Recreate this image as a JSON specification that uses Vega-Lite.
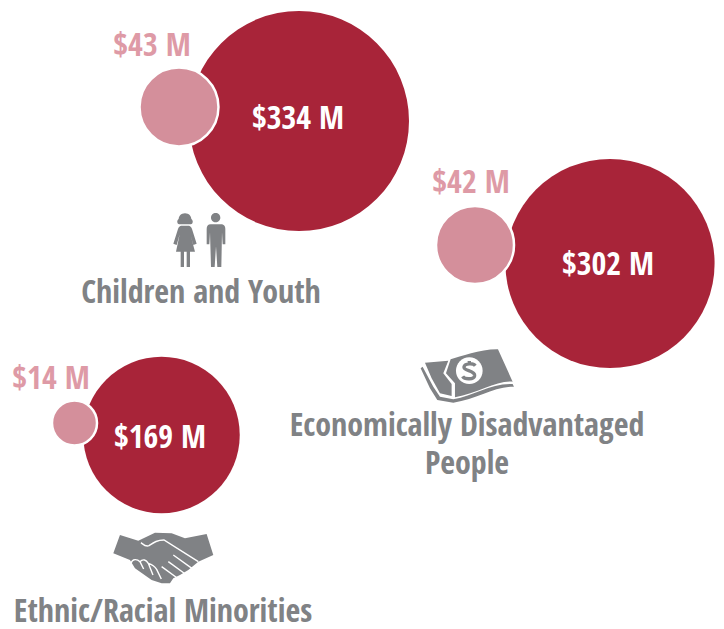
{
  "$schema": "https://vega.github.io/schema/vega-lite/v6.json",
  "width": 724,
  "height": 629,
  "padding": 0,
  "autosize": {"type": "fit", "contains": "padding"},
  "background": "white",
  "view": {"stroke": null},
  "datasets": {
    "bubbles": [
      {"category": "Children and Youth", "group": "all", "amount": 334, "cx": 299, "cy": 121},
      {"category": "Economically Disadvantaged People", "group": "all", "amount": 302, "cx": 610, "cy": 263.5},
      {"category": "Ethnic/Racial Minorities", "group": "all", "amount": 169, "cx": 161.5, "cy": 435},
      {"category": "Children and Youth", "group": "part", "amount": 43, "cx": 179, "cy": 107},
      {"category": "Economically Disadvantaged People", "group": "part", "amount": 42, "cx": 475, "cy": 245},
      {"category": "Ethnic/Racial Minorities", "group": "part", "amount": 14, "cx": 74.5, "cy": 423}
    ],
    "labels": [
      {"text": "$334 M", "kind": "all", "lx": 298, "ly": 119},
      {"text": "$302 M", "kind": "all", "lx": 608, "ly": 265},
      {"text": "$169 M", "kind": "all", "lx": 160, "ly": 438},
      {"text": "$43 M", "kind": "part", "lx": 152, "ly": 46},
      {"text": "$42 M", "kind": "part", "lx": 471, "ly": 183},
      {"text": "$14 M", "kind": "part", "lx": 51, "ly": 379},
      {"text": "Children and Youth", "kind": "name", "lx": 201, "ly": 293},
      {"text": "Economically Disadvantaged", "kind": "name", "lx": 467, "ly": 426},
      {"text": "People", "kind": "name", "lx": 467, "ly": 464},
      {"text": "Ethnic/Racial Minorities", "kind": "name", "lx": 163, "ly": 612}
    ],
    "icons": [
      {"icon": "people", "ix": 200, "iy": 241},
      {"icon": "money", "ix": 467.3, "iy": 375},
      {"icon": "hands", "ix": 162.3, "iy": 555}
    ]
  },
  "layer": [
    {
      "data": {"name": "bubbles"},
      "transform": [{"filter": "datum.group === 'all'"}],
      "mark": {"type": "point", "shape": "circle", "filled": true, "opacity": 1, "fill": "#A82439", "strokeWidth": 0},
      "encoding": {
        "x": {"field": "cx", "type": "quantitative", "scale": {"domain": [0, 724]}, "axis": null},
        "y": {"field": "cy", "type": "quantitative", "scale": {"domain": [629, 0]}, "axis": null},
        "size": {"field": "amount", "type": "quantitative", "scale": {"domain": [0, 334], "range": [0, 48400]}, "legend": null}
      }
    },
    {
      "data": {"name": "bubbles"},
      "transform": [{"filter": "datum.group === 'part'"}],
      "mark": {"type": "point", "shape": "circle", "filled": true, "opacity": 1, "fill": "#D48F9B", "stroke": "white", "strokeWidth": 2.5},
      "encoding": {
        "x": {"field": "cx", "type": "quantitative", "scale": {"domain": [0, 724]}, "axis": null},
        "y": {"field": "cy", "type": "quantitative", "scale": {"domain": [629, 0]}, "axis": null},
        "size": {"field": "amount", "type": "quantitative", "scale": {"domain": [0, 334], "range": [0, 48400]}, "legend": null}
      }
    },
    {
      "data": {"name": "icons"},
      "mark": {"type": "point", "filled": true, "opacity": 1, "size": 0.4444, "fill": "#808285", "strokeWidth": 0},
      "encoding": {
        "x": {"field": "ix", "type": "quantitative", "scale": {"domain": [0, 724]}, "axis": null},
        "y": {"field": "iy", "type": "quantitative", "scale": {"domain": [629, 0]}, "axis": null},
        "shape": {
          "field": "icon",
          "type": "nominal",
          "legend": null,
          "scale": {
            "domain": ["people", "money", "hands"],
            "range": [
              "M-45,-83 C-33,-83 -26,-74 -26,-66 C-20,-62 -20,-52 -28,-50 L-62,-50 C-70,-52 -70,-62 -64,-66 C-64,-74 -57,-83 -45,-83 Z M-57,-46 L-33,-46 C-28,-44 -26,-42 -24,-36 L-10,8 L-20,12 L-29,-20 L-15,32 L-30,32 L-30,78 L-40,78 L-40,32 L-48,32 L-48,78 L-58,78 L-58,32 L-72,32 L-61,-20 L-70,12 L-80,8 L-66,-36 C-64,-42 -62,-44 -57,-46 Z M33,-70 A14,14 0 1,0 61,-70 A14,14 0 1,0 33,-70 Z M32,-50 L62,-50 C72,-50 76,-44 76,-36 L76,10 L68,10 L66,-26 L64,78 L52,78 L48,16 L44,78 L33,78 L30,-26 L28,10 L20,10 L20,-36 C20,-44 24,-50 32,-50 Z",
              "M-50,-47 C-20,-55 40,-78 92,-77 L136,20 C90,15 30,55 -37,67 L-37,25 L-64,-5 Z M-127,-37 L-57,-43 L-72,-5 L-47,27 L-47,63 L-82,55 L-107,10 Z M-140,-20 L-134,-25 L-102,35 L-82,65 L-42,73 C20,62 70,25 136,27 L140,35 C80,35 30,72 -42,83 L-90,75 L-112,40 Z",
              "M-127,-60 L-72,-43 L-22,-67 L28,-65 L68,-50 L133,-63 L153,0 L108,20 L78,45 L53,60 L33,70 L23,85 L-2,85 L-32,75 L-82,40 L-97,15 L-147,-5 Z"
            ]
          }
        }
      }
    },
    {
      "data": {"name": "icons"},
      "transform": [{"filter": "datum.icon === 'money'"}],
      "mark": {"type": "point", "filled": true, "opacity": 1, "size": 0.4444, "fill": "white", "strokeWidth": 0, "shape": "M-34,-13 A40,40 0 1,0 46,-13 A40,40 0 1,0 -34,-13 Z"},
      "encoding": {
        "x": {"field": "ix", "type": "quantitative", "scale": {"domain": [0, 724]}, "axis": null},
        "y": {"field": "iy", "type": "quantitative", "scale": {"domain": [629, 0]}, "axis": null}
      }
    },
    {
      "data": {"name": "icons"},
      "transform": [{"filter": "datum.icon === 'money'"}],
      "mark": {"type": "point", "filled": false, "opacity": 1, "size": 0.4444, "stroke": "#808285", "strokeWidth": 3.4, "shape": "M24,-28 C18,-36 -8,-36 -10,-24 C-12,-12 24,-14 22,2 C20,14 -8,14 -14,4 M6,-42 L6,-34 M6,8 L6,16"},
      "encoding": {
        "x": {"field": "ix", "type": "quantitative", "scale": {"domain": [0, 724]}, "axis": null},
        "y": {"field": "iy", "type": "quantitative", "scale": {"domain": [629, 0]}, "axis": null}
      }
    },
    {
      "data": {"name": "icons"},
      "transform": [{"filter": "datum.icon === 'hands'"}],
      "mark": {"type": "point", "filled": false, "opacity": 1, "size": 0.4444, "stroke": "white", "strokeWidth": 1.4, "shape": "M-64,-37 C-55,-30 -50,-24 -40,-28 C-25,-38 -15,-45 5,-45 L108,20 M33,0 L93,43 M18,20 L73,60 M-2,35 L53,75 M-94,25 C-90,10 -75,12 -67,20 C-58,10 -48,15 -42,25 C-32,28 -22,35 -17,43 M-67,20 L-56,42 M-42,25 L-28,60 M-17,43 L-3,72"},
      "encoding": {
        "x": {"field": "ix", "type": "quantitative", "scale": {"domain": [0, 724]}, "axis": null},
        "y": {"field": "iy", "type": "quantitative", "scale": {"domain": [629, 0]}, "axis": null}
      }
    },
    {
      "data": {"name": "labels"},
      "mark": {"type": "text", "font": "Open Sans Condensed, Roboto Condensed, Liberation Sans Narrow, Liberation Sans", "fontWeight": "bold", "fontSize": 32, "align": "center", "baseline": "middle"},
      "encoding": {
        "x": {"field": "lx", "type": "quantitative", "scale": {"domain": [0, 724]}, "axis": null},
        "y": {"field": "ly", "type": "quantitative", "scale": {"domain": [629, 0]}, "axis": null},
        "text": {"field": "text", "type": "nominal"},
        "color": {
          "field": "kind",
          "type": "nominal",
          "legend": null,
          "scale": {"domain": ["all", "part", "name"], "range": ["#FFFFFF", "#DE9AA6", "#808285"]}
        }
      }
    }
  ]
}
